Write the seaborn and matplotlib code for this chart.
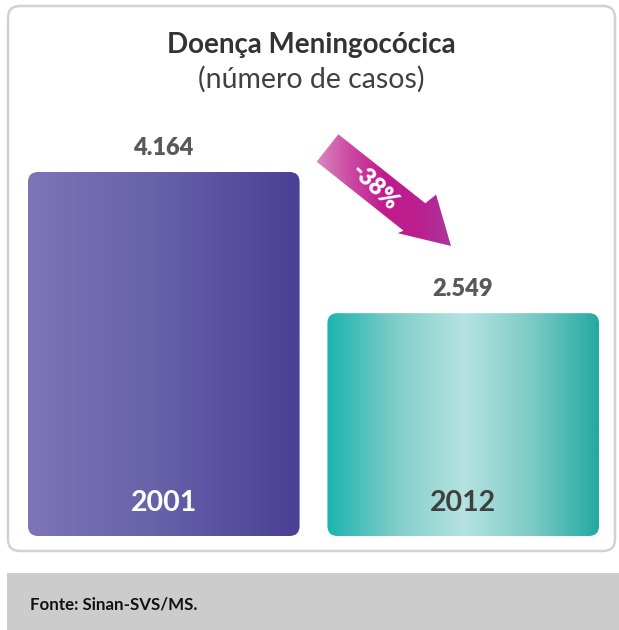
import numpy as np
import pandas as pd
import matplotlib
matplotlib.use("Agg")
import matplotlib.pyplot as plt
import seaborn as sns
from matplotlib.patches import FancyBboxPatch, Polygon, Rectangle
from matplotlib.colors import LinearSegmentedColormap

# ---------------- data ----------------
years = ["2001", "2012"]
cases = [4164, 2549]
value_labels = ["4.164", "2.549"]
change_label = "-38%"
title = "Doença Meningocócica"
subtitle = "(número de casos)"
source = "Fonte: Sinan-SVS/MS."

# ---------------- style ----------------
W, H = 619, 630
sns.set_theme(style="white")
plt.rcParams['font.family'] = ['Lato', 'DejaVu Sans']

bar_cmaps = [
    LinearSegmentedColormap.from_list("purple", ["#7c75b6", "#6660a8", "#4a4096"]),
    LinearSegmentedColormap.from_list("teal", ["#1cb4ae", "#7fcdc9", "#b6e3e1", "#7ecbc6", "#22aaa2"]),
]
year_colors = ["white", "#404040"]

fig = plt.figure(figsize=(W / 100, H / 100), dpi=100)
fig.patch.set_facecolor("white")

# bar axes (seaborn)
left, right, top, bottom = 28, 599, 172, 536
ax = fig.add_axes([left / W, 1 - bottom / H, (right - left) / W, (bottom - top) / H])
df = pd.DataFrame({"year": years, "cases": cases})
sns.barplot(data=df, x="year", y="cases", ax=ax, width=0.907, color="gray")
ax.set_xlim(-0.4535, 1.4535)
ax.set_ylim(0, max(cases))
ax.axis("off")

# overlay in pixel coordinates (y from top)
ov = fig.add_axes([0, 0, 1, 1], zorder=5)
ov.axis("off")

# outer rounded box
ov.add_patch(FancyBboxPatch((8, 6), 607, 545, boxstyle="round,pad=0,rounding_size=12",
                            fc="white", ec="#d2d2d2", lw=1.8, zorder=1))
# footer
ov.add_patch(Rectangle((7, 573), 612, 57, fc="#cccccc", ec="none", zorder=1))
ov.text(30, 605, source, ha="left", va="center", fontsize=12.2, fontweight="bold",
        color="#111111", zorder=3)

# title
ov.text(311, 45, title, ha="center", va="center", fontsize=20, fontweight="bold",
        color="#333333", zorder=3)
ov.text(311, 79, subtitle, ha="center", va="center", fontsize=20.5, color="#404040", zorder=3)

grad = np.linspace(0, 1, 256)[None, :]
for i, p in enumerate(ax.patches):
    bb = p.get_window_extent()
    x0, x1 = bb.x0, bb.x1
    y_top, y_bot = H - bb.y1, H - bb.y0
    p.set_alpha(0)
    clip = FancyBboxPatch((x0, y_top), x1 - x0, y_bot - y_top,
                          boxstyle="round,pad=0,rounding_size=10", fc="none", ec="none")
    ov.add_patch(clip)
    im = ov.imshow(grad, cmap=bar_cmaps[i], extent=[x0, x1, y_bot, y_top],
                   aspect="auto", zorder=2, interpolation="bilinear")
    im.set_clip_path(clip)
    xc = (x0 + x1) / 2
    ov.text(xc - 1, y_top - 24, value_labels[i], ha="center", va="center", fontsize=17,
            fontweight="heavy", color="#595959", zorder=3)
    ov.text(xc, y_bot - 33, years[i], ha="center", va="center", fontsize=20.5,
            fontweight="bold", color=year_colors[i], zorder=3)

# arrow
T = np.array([327.5, 148.0])
P = np.array([451.0, 246.0])
L = np.linalg.norm(P - T)
u = (P - T) / L
n = np.array([u[1], -u[0]])  # points up-right
hb = 111
pts = [T + n * 17.5, T + u * hb + n * 17.5, T + u * (hb + 3) + n * 31, P,
       T + u * (hb - 3) - n * 23, T + u * hb - n * 17.5, T - n * 17.5]
arrow = Polygon(pts, closed=True, fc="none", ec="none")
ov.add_patch(arrow)
acmap = LinearSegmentedColormap.from_list("mag", ["#d98ac2", "#cc4aa3", "#c21a8c", "#bb1f8e", "#a93aa0"])
aim = ov.imshow(grad, cmap=acmap, extent=[315, 455, 250, 130], aspect="auto", zorder=2,
                interpolation="bilinear")
aim.set_clip_path(arrow)
ov.text(375, 187, change_label, ha="center", va="center", rotation=-44, fontsize=17,
        fontweight="heavy", color="white", zorder=3, rotation_mode="anchor")

ov.set_xlim(0, W)
ov.set_ylim(H, 0)

fig.savefig("out.png", dpi=100)
